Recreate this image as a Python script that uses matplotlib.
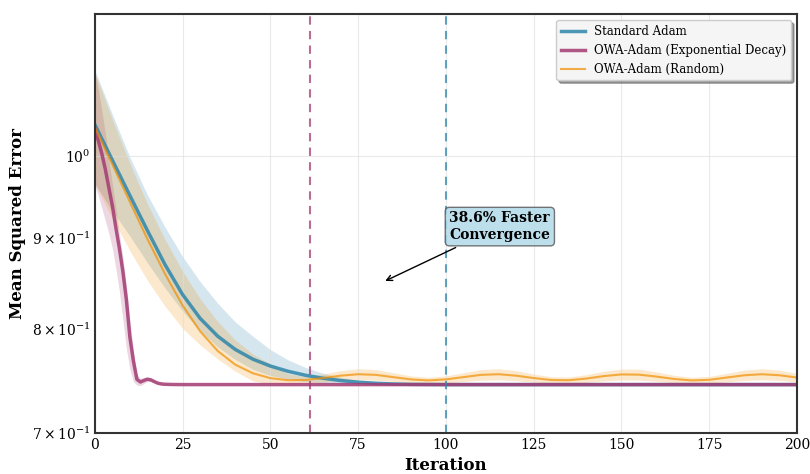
import numpy as np
import matplotlib.pyplot as plt

plt.rcParams['font.family'] = 'DejaVu Serif'
plt.rcParams['mathtext.fontset'] = 'dejavuserif'

#== iterations (grid for Standard Adam and OWA Random) ==#
iters = list(range(0, 201, 5))

adam_mean = [1.0412, 0.9946, 0.9502, 0.9083, 0.8694, 0.8366, 0.8113, 0.7929, 0.7795, 0.7698,
             0.7630, 0.7579, 0.7540, 0.7511, 0.7489, 0.7473, 0.7463, 0.7456, 0.7452, 0.7451,
             0.745, 0.745, 0.745, 0.745, 0.745, 0.745, 0.745, 0.745, 0.745, 0.745,
             0.745, 0.745, 0.745, 0.745, 0.745, 0.745, 0.745, 0.745, 0.745, 0.745, 0.745]
adam_upper = [1.1170, 1.0549, 0.9982, 0.9510, 0.9124, 0.8785, 0.8506, 0.8273, 0.8076, 0.7929,
              0.7793, 0.7691, 0.7616, 0.7560, 0.7520, 0.7492, 0.7473, 0.7461, 0.7456, 0.7452,
              0.7451, 0.7451, 0.7451, 0.7451, 0.7451, 0.7451, 0.7451, 0.7451, 0.7451, 0.7451,
              0.7451, 0.7451, 0.7451, 0.7451, 0.7451, 0.7451, 0.7451, 0.7451, 0.7451, 0.7451, 0.7451]
adam_lower = [0.9650, 0.9316, 0.9020, 0.8714, 0.8437, 0.8189, 0.7984, 0.7820, 0.7695, 0.7598,
              0.7537, 0.7502, 0.7480, 0.7466, 0.7458, 0.7454, 0.7449, 0.7449, 0.7449, 0.7449,
              0.7449, 0.7449, 0.7449, 0.7449, 0.7449, 0.7449, 0.7449, 0.7449, 0.7449, 0.7449,
              0.7449, 0.7449, 0.7449, 0.7449, 0.7449, 0.7449, 0.7449, 0.7449, 0.7449, 0.7449, 0.7449]

rand_mean = [1.0380, 0.9891, 0.9424, 0.8984, 0.8591, 0.8250, 0.7980, 0.7780, 0.7644, 0.7560,
             0.7512, 0.7492, 0.7494, 0.7513, 0.7536, 0.7550, 0.7544, 0.7522, 0.7500, 0.7490,
             0.7500, 0.7522, 0.7544, 0.7550, 0.7536, 0.7513, 0.7494, 0.7492, 0.7508, 0.7532,
             0.7548, 0.7546, 0.7527, 0.7504, 0.7490, 0.7496, 0.7518, 0.7540, 0.7550, 0.7540, 0.7518]
rand_upper = [1.113, 1.048, 0.990, 0.940, 0.898, 0.862, 0.832, 0.808, 0.789, 0.775,
              0.765, 0.7555, 0.7526, 0.7552, 0.7585, 0.7604, 0.7596, 0.7565, 0.7534, 0.7520,
              0.7534, 0.7565, 0.7596, 0.7604, 0.7585, 0.7552, 0.7526, 0.7523, 0.7546, 0.7579,
              0.7601, 0.7599, 0.7572, 0.7540, 0.7520, 0.7529, 0.7559, 0.7590, 0.7604, 0.7590, 0.7559]
rand_lower = [0.965, 0.923, 0.885, 0.852, 0.824, 0.801, 0.784, 0.770, 0.758, 0.7485,
              0.7458, 0.7455, 0.7462, 0.7474, 0.7487, 0.7496, 0.7492, 0.7479, 0.7466, 0.7460,
              0.7466, 0.7479, 0.7492, 0.7496, 0.7487, 0.7474, 0.7462, 0.7461, 0.7470, 0.7485,
              0.7495, 0.7493, 0.7482, 0.7468, 0.7460, 0.7463, 0.7477, 0.7490, 0.7496, 0.7490, 0.7477]

#== OWA-Adam (Exponential Decay), finer grid at the start ==#
exp_iters = list(range(0, 21)) + [22, 25, 30, 50, 75, 100, 125, 150, 175, 200]
exp_mean = [1.036, 1.020, 1.003, 0.983, 0.960, 0.938, 0.912, 0.888, 0.862, 0.831,
            0.792, 0.768, 0.750, 0.7475, 0.749, 0.7502, 0.7495, 0.7478, 0.7463, 0.7456,
            0.7453, 0.7451, 0.745, 0.745, 0.745, 0.745, 0.745, 0.745, 0.745, 0.745, 0.745]
exp_upper = [1.115, 1.090, 1.060, 1.030, 0.995, 0.965, 0.935, 0.905, 0.878, 0.847,
             0.810, 0.778, 0.755, 0.751, 0.7515, 0.752, 0.751, 0.749, 0.7472, 0.7462,
             0.7458, 0.7454, 0.7452, 0.7452, 0.7452, 0.7452, 0.7452, 0.7452, 0.7452, 0.7452, 0.7452]
exp_lower = [0.963, 0.950, 0.935, 0.920, 0.905, 0.888, 0.865, 0.840, 0.810, 0.780,
             0.760, 0.748, 0.7445, 0.744, 0.746, 0.748, 0.748, 0.7465, 0.7454, 0.745,
             0.7448, 0.7448, 0.7448, 0.7448, 0.7448, 0.7448, 0.7448, 0.7448, 0.7448, 0.7448, 0.7448]

conv_adam = 100
conv_exp = 61.4

c_adam = '#2E86AB'
c_exp = '#A23B72'
c_rand = '#F18F01'

fig, ax = plt.subplots(figsize=(8.1, 4.74), dpi=100)
fig.subplots_adjust(left=0.117, right=0.984, bottom=0.0865, top=0.970)

ax.fill_between(iters, adam_lower, adam_upper, color=c_adam, alpha=0.2, linewidth=0)
ax.fill_between(exp_iters, exp_lower, exp_upper, color=c_exp, alpha=0.2, linewidth=0)
ax.fill_between(iters, rand_lower, rand_upper, color=c_rand, alpha=0.2, linewidth=0)

ax.plot(iters, adam_mean, color=c_adam, linewidth=2.5, alpha=0.85, label='Standard Adam')
ax.plot(exp_iters, exp_mean, color=c_exp, linewidth=2.5, alpha=0.85, label='OWA-Adam (Exponential Decay)')
ax.plot(iters, rand_mean, color=c_rand, linewidth=1.5, alpha=0.7, label='OWA-Adam (Random)')

ax.axvline(conv_exp, color=c_exp, linestyle=(0, (4, 3)), linewidth=1.5, alpha=0.75)
ax.axvline(conv_adam, color=c_adam, linestyle=(0, (4, 3)), linewidth=1.5, alpha=0.75)

speedup = (conv_adam - conv_exp) / conv_adam * 100
ax.annotate(f'{speedup:.1f}% Faster\nConvergence', xy=(82, 0.850), xytext=(101, 0.913),
            fontsize=10, fontweight='bold', ha='left', va='center',
            bbox=dict(boxstyle='round,pad=0.3', facecolor='lightblue', edgecolor='#555555', alpha=0.8),
            arrowprops=dict(arrowstyle='->', color='black', lw=1))

ax.set_yscale('log')
ax.set_xlim(0, 200)
ax.set_ylim(0.7, 1.2)
ax.set_xlabel('Iteration', fontsize=12, fontweight='bold')
ax.set_ylabel('Mean Squared Error', fontsize=12, fontweight='bold')
ax.tick_params(axis='both', which='both', labelsize=10, length=0)
ax.grid(True, which='major', color='#dddddd', alpha=0.6, linewidth=0.8)
for s in ax.spines.values():
    s.set_color('#333333')
    s.set_linewidth(1.5)

ax.legend(loc='upper right', fontsize=8.5, frameon=True, fancybox=True, shadow=True,
          facecolor='#f5f5f5', framealpha=1.0)

plt.savefig('out.png')
